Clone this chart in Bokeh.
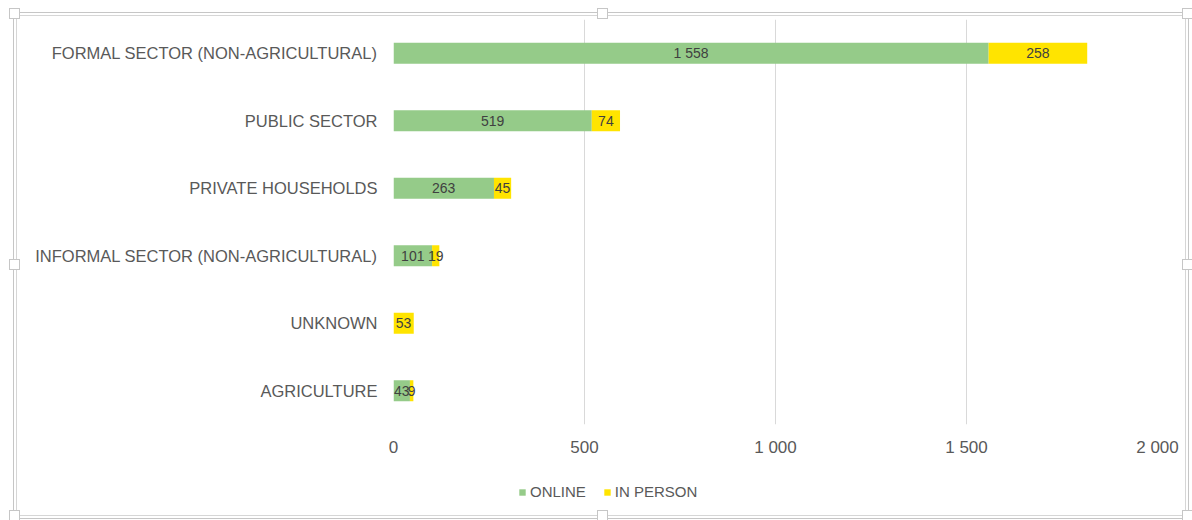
from bokeh.plotting import figure
from bokeh.layouts import column
from bokeh.models import (ColumnDataSource, FactorRange, Range1d, Legend, LegendItem, LabelSet,
                          CustomJSTickFormatter, FixedTicker)
from bokeh.core.properties import value
from bokeh.embed import file_html
from bokeh.resources import INLINE

categories = ["FORMAL SECTOR (NON-AGRICULTURAL)", "PUBLIC SECTOR", "PRIVATE HOUSEHOLDS",
              "INFORMAL SECTOR (NON-AGRICULTURAL)", "UNKNOWN", "AGRICULTURE"]
online = [1558, 519, 263, 101, 0, 43]
in_person = [258, 74, 45, 19, 53, 9]
series_names = ["ONLINE", "IN PERSON"]
x_ticks = [0, 500, 1000, 1500, 2000]

GREEN = "#95CB89"
YELLOW = "#FFE400"
FONT = "Liberation Sans"
W, H1, H2 = 1192, 462, 58

def fmt(v):
    return f"{v:,}".replace(",", " ")

src = ColumnDataSource(dict(cat=categories, online=online, in_person=in_person))
yr = FactorRange(factors=list(reversed(categories)), range_padding=0)
xr = Range1d(0, x_ticks[-1])

p = figure(width=W, height=H1, output_backend="svg", toolbar_location=None,
           y_range=yr, x_range=xr, min_border_left=393, min_border_right=35,
           min_border_top=19, min_border_bottom=38)
p.outline_line_color = None
p.border_fill_alpha = 0

r = p.hbar_stack(["online", "in_person"], y="cat", height=0.31, color=[GREEN, YELLOW],
                 line_color=None, source=src)

lab_online = dict(cat=[], x=[], t=[])
lab_inp = dict(cat=[], x=[], t=[])
for c, a, b in zip(categories, online, in_person):
    if a:
        lab_online["cat"].append(c); lab_online["x"].append(a / 2); lab_online["t"].append(fmt(a))
    if b:
        lab_inp["cat"].append(c); lab_inp["x"].append(a + b / 2); lab_inp["t"].append(fmt(b))
for d in (lab_online, lab_inp):
    p.add_layout(LabelSet(x="x", y="cat", text="t", source=ColumnDataSource(d),
                          text_align="center", text_baseline="middle", text_font_size="14px",
                          text_color="#404040", text_font=value(FONT)))

p.xgrid.grid_line_color = "#d9d9d9"
p.ygrid.grid_line_color = None
p.xaxis.ticker = FixedTicker(ticks=x_ticks)
p.xaxis.formatter = CustomJSTickFormatter(
    code='return tick.toString().replace(/\\B(?=(\\d{3})+(?!\\d))/g, " ");')
for ax in (p.xaxis[0], p.yaxis[0]):
    ax.axis_line_color = None
    ax.major_tick_line_color = None
    ax.minor_tick_line_color = None
    ax.major_tick_out = 0
    ax.major_tick_in = 0
    ax.major_label_text_font = FONT
    ax.major_label_text_color = "#595959"
p.yaxis.major_label_text_font_size = "16.5px"
p.yaxis.major_label_standoff = 16
p.xaxis.major_label_text_font_size = "17px"
p.xaxis.major_label_standoff = 13

# legend strip below the chart (hidden copies of the series supply the swatches)
p2 = figure(width=W, height=H2, output_backend="svg", toolbar_location=None,
            x_range=xr, y_range=yr, x_axis_type=None, y_axis_type=None,
            min_border_left=393, min_border_right=35, min_border_top=0, min_border_bottom=0)
p2.outline_line_color = None
p2.border_fill_alpha = 0
p2.background_fill_alpha = 0
p2.grid.visible = False
swatches = p2.hbar_stack(["online", "in_person"], y="cat", height=0.31, color=[GREEN, YELLOW],
                         line_color=None, source=src)
for s in swatches:
    s.visible = False
legend = Legend(items=[LegendItem(label=n, renderers=[s]) for n, s in zip(series_names, swatches)],
                orientation="horizontal", location=(125, 20),
                label_text_font=FONT, label_text_font_size="15px", label_text_color="#595959",
                glyph_width=8, glyph_height=8, spacing=17, label_standoff=4,
                border_line_color=None, background_fill_alpha=0, padding=0, margin=0)
p2.add_layout(legend, "center")

# chart-box frame with selection handles (decoration)
LINE1, LINE2 = "#c6c6c6", "#d6d6d6"
def g(c):
    return f"linear-gradient({c},{c})"
layers = []
hx = [9, 597, 1182]
hy = [8, 259, 510]
for x in hx:
    for y in hy:
        if x == 597 and y == 259:
            continue
        layers.append(f"{g('white')} {x+1}px {y+1}px / 9px 9px no-repeat")
        layers.append(f"{g(LINE1)} {x}px {y}px / 11px 11px no-repeat")
layers += [
    f"{g(LINE1)} 13px 12px / 1176px 1px no-repeat",
    f"{g(LINE1)} 13px 518px / 1176px 1px no-repeat",
    f"{g(LINE1)} 13px 12px / 1px 507px no-repeat",
    f"{g(LINE1)} 1188px 12px / 1px 507px no-repeat",
    f"{g(LINE2)} 16px 15px / 1170px 1px no-repeat",
    f"{g(LINE2)} 16px 515px / 1170px 1px no-repeat",
    f"{g(LINE2)} 16px 15px / 1px 501px no-repeat",
    f"{g(LINE2)} 1185px 15px / 1px 501px no-repeat",
]
layout = column(p, p2, spacing=0)
layout.styles = {"background": ", ".join(layers) + ", white"}

open("out.html", "w").write(file_html(layout, INLINE))
